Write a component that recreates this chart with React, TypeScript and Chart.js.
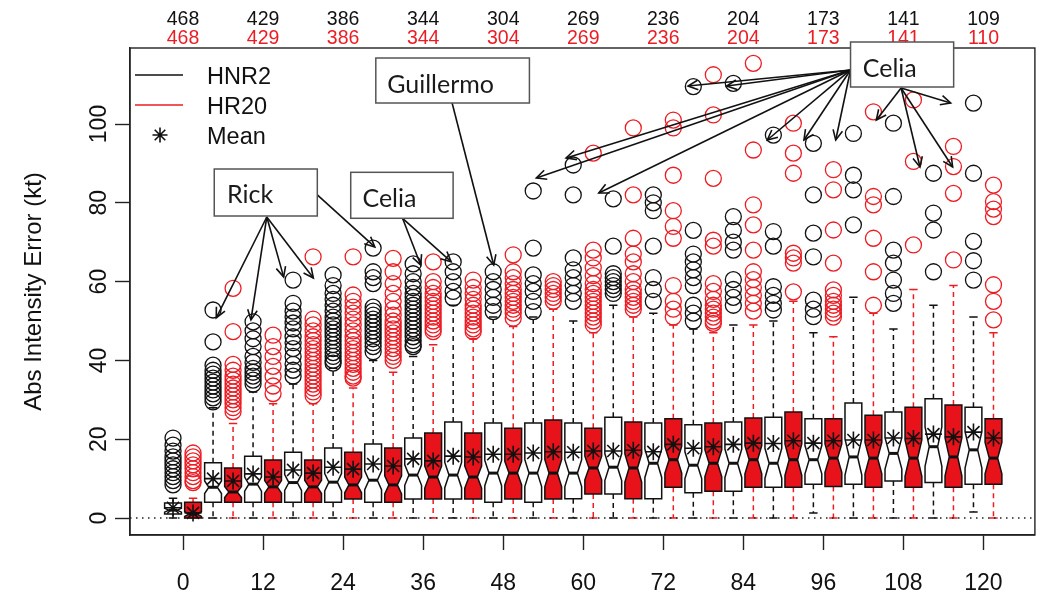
import React, { useEffect, useRef } from 'react';
import { Chart, registerables } from 'chart.js';

Chart.register(...registerables);

// ---------------- data ----------------
const LEADS = [0, 6, 12, 18, 24, 30, 36, 42, 48, 54, 60, 66, 72, 78, 84, 90, 96, 102, 108, 114, 120];
const X_TICKS = [0, 12, 24, 36, 48, 60, 72, 84, 96, 108, 120];
const Y_TICKS = [0, 20, 40, 60, 80, 100];
const COUNT_LEADS = [0, 12, 24, 36, 48, 60, 72, 84, 96, 108, 120];
const COUNT_HNR2 = [468, 429, 386, 344, 304, 269, 236, 204, 173, 141, 109];
const COUNT_HR20 = [468, 429, 386, 344, 304, 269, 236, 204, 173, 141, 110];

const HNR2_Q1 = [1.0, 4.0, 4.0, 4.0, 4.0, 4.0, 4.8, 4.8, 4.0, 4.0, 4.9, 6.1, 4.9, 6.4, 6.8, 7.8, 8.6, 8.6, 9.4, 9.0, 8.6];
const HNR2_MED = [2.0, 7.8, 8.6, 9.0, 9.1, 9.6, 10.9, 10.9, 11.4, 11.4, 11.4, 12.9, 13.9, 13.4, 13.9, 13.9, 14.8, 15.5, 16.4, 18.1, 17.3];
const HNR2_Q3 = [3.8, 14.0, 15.7, 16.7, 17.8, 18.8, 20.3, 24.4, 24.1, 24.1, 24.1, 25.6, 24.1, 23.7, 24.4, 25.6, 25.2, 29.2, 26.9, 30.3, 28.1];
const HNR2_LOW = [0, 0, 0, 0, 0, 0, 0, 0, 0, 0, 0, 0, 0, 0, 0, 0, 1.3, 0, 0, 0, 1.5];
const HNR2_HIGH = [5, 28, 32, 34, 38, 40, 41, 54, 51, 51, 50, 54, 52, 48, 49, 50, 47, 56, 48, 54, 51];
const HNR2_MEAN = [2.6, 10.0, 11.2, 12.2, 12.9, 13.7, 15.0, 15.7, 16.2, 16.5, 16.7, 17.0, 16.8, 17.7, 18.7, 18.9, 19.0, 19.8, 20.3, 21.3, 21.8];
const HNR2_NOTCH = [0.5, 1.6, 1.8, 2.0, 2.2, 2.4, 2.6, 3.2, 3.2, 3.4, 3.4, 3.4, 3.6, 3.4, 3.6, 3.8, 3.6, 4.6, 4.0, 5.0, 4.6];
const HNR2_OUT = [
  [20.3, 18.5, 17, 15.5, 14.5, 13.5, 12.5, 11.5, 10.5, 9.5, 8.4],
  [52.8, 44.7, 38.8, 37.5, 36.5, 35.5, 34.5, 33.5, 32.5, 31.5, 30.5, 29.5],
  [49.8, 47.5, 45.5, 43.5, 41, 39.5, 38, 37, 36, 35, 34],
  [60.4, 54.5, 52.5, 51, 49.5, 48, 46, 44.5, 43, 41, 39, 37.5, 36],
  [61.7, 59, 57, 55.5, 54, 52.5, 51, 50, 49, 48, 47, 46, 45, 44, 43, 42, 41, 40, 39.3],
  [68.5, 62.5, 61, 59.5, 53.5, 52.5, 51.5, 50.5, 49.5, 48.5, 47.5, 46.5, 45.5, 44.5, 43.5, 42.2],
  [64.5, 62, 60, 58.5, 57, 56, 55, 54, 53, 52, 51, 50, 49, 48, 47, 46, 45, 44, 43.5],
  [65, 62.5, 60, 57.5, 55.8],
  [62.5, 60, 58, 56, 54, 52.4],
  [83, 68.5, 61.7, 59.5, 57.5, 55, 52.4],
  [89.6, 82, 66, 63, 61, 59, 57, 55],
  [81, 69, 62, 61, 60, 59, 58, 57],
  [82, 80, 78, 69, 61, 58, 55],
  [109.5, 73, 67, 65, 63, 61, 59, 54, 52, 50],
  [110.3, 76.5, 73, 70, 68, 60.5, 58, 56, 54],
  [97.2, 72.7, 69, 58.7, 56.5, 54.5, 52.8],
  [95.1, 82, 72.3, 66.3, 55.3, 53, 51.1],
  [97.6, 87, 83.3, 74.4],
  [100.2, 81.6, 68, 64.7, 60.4, 57, 54.5],
  [87.5, 77.4, 73.1, 62.5],
  [105.3, 87.5, 70.2, 65.3, 60.4],
];

const HR20_Q1 = [0, 4.0, 4.0, 4.0, 4.8, 4.0, 4.8, 4.8, 4.8, 4.8, 6.1, 4.9, 7.8, 6.8, 7.8, 7.8, 8.0, 7.8, 7.8, 7.8, 8.6];
const HR20_MED = [1.0, 6.6, 7.9, 7.9, 8.4, 8.4, 10.4, 10.4, 11.4, 11.4, 12.7, 12.7, 14.8, 13.9, 14.8, 14.8, 15.2, 15.2, 15.2, 15.5, 15.2];
const HR20_Q3 = [4.0, 12.7, 14.7, 14.7, 16.7, 17.8, 21.6, 21.6, 22.8, 24.9, 22.8, 24.4, 25.2, 24.1, 25.4, 26.9, 25.2, 26.1, 28.1, 28.7, 25.2];
const HR20_LOW = [0, 0, 0, 0, 0, 0, 0, 0, 0, 0, 0, 0, 0, 0, 0, 0, 0, 0, 0, 0, 0];
const HR20_HIGH = [5, 24, 29, 29, 33, 37, 44, 45.5, 48.6, 53, 47, 51, 49, 47, 49, 55, 46, 52, 58, 59, 47];
const HR20_MEAN = [1.3, 9.4, 10.4, 11.4, 12.4, 13.2, 14.5, 15.5, 16.2, 16.8, 17.0, 17.2, 18.7, 18.1, 19.0, 19.6, 19.6, 19.8, 20.2, 20.6, 20.3];
const HR20_NOTCH = [0.6, 1.4, 1.6, 1.7, 2.0, 2.3, 2.8, 2.8, 3.0, 3.4, 3.0, 3.6, 3.4, 3.4, 3.6, 4.0, 3.6, 4.0, 4.6, 4.8, 4.0];
const HR20_OUT = [
  [16.5, 15.5, 14.5, 13.5, 12.5, 11.5, 10.5, 9.5, 9],
  [58.3, 47.3, 39, 37.5, 36, 35, 34, 33, 32, 31, 30, 29, 28, 27],
  [46.4, 43.5, 41, 38.5, 36, 33.5, 31.6],
  [66.3, 50.5, 49, 47.5, 46, 45, 44, 43, 42, 41, 40, 39, 38, 37, 36, 35, 34, 33, 32, 31],
  [66.3, 56.6, 55, 53.5, 52, 50.5, 49, 47.5, 46, 45, 44, 43, 42, 41, 40, 39, 38, 37, 36, 35.5],
  [65.9, 62.5, 59.5, 57, 55, 53, 51.5, 50, 49, 48, 47, 46, 45, 44, 43, 42, 41, 40],
  [65, 60, 58.5, 57, 56, 55, 54, 53, 52, 51, 50, 49, 48, 47.3],
  [60.4, 58.5, 57, 55.5, 54, 53, 52, 51, 50, 49, 48, 47.3],
  [66.8, 62.5, 61, 59.5, 58, 57, 56, 55, 54, 53, 52, 50.7],
  [60, 59, 58, 57, 56, 55],
  [92.6, 68, 66, 63.5, 61.5, 59.5, 58, 57, 56, 55, 54, 53, 52, 51, 50, 49],
  [99, 82, 71, 67, 65, 62, 60, 58, 57, 56, 55, 54, 53],
  [101, 99, 87, 78, 74, 71, 59, 55, 53, 51],
  [112.5, 102.3, 86.2, 70.5, 69, 59.5, 57.5, 55.5, 54, 53, 52, 51, 50, 49.4],
  [115.4, 93.4, 79.5, 74.4, 68, 62.5, 60.5, 58.5, 56.5, 54.5, 52.5],
  [100.2, 92.6, 87.5, 67.2, 66, 64.7, 57.4],
  [88.4, 83.3, 73.1, 64.7, 57.9, 56.5, 55, 54, 53, 52, 51],
  [103.1, 81.6, 79.5, 71, 62.5, 54],
  [106.1, 90.5, 69.3],
  [94.3, 89.2, 82.4, 65.5],
  [84.5, 80.3, 78.4, 76.5, 59.2, 55, 50.3],
];

// ---------------- annotations (data units: hours, kt) ----------------
const NOTE_BOXES = [
  { text: 'Rick', x0: 4.68, x1: 20.13, y0: 76.65, y1: 88.58, tx: 6.6, ty: 79.9 },
  { text: 'Celia', x0: 25.14, x1: 40.49, y0: 76.07, y1: 87.74, tx: 26.9, ty: 79.0 },
  { text: 'Guillermo', x0: 28.9, x1: 51.93, y0: 105.33, y1: 116.75, tx: 30.6, ty: 107.9 },
  { text: 'Celia', x0: 100.07, x1: 115.53, y0: 109.39, y1: 120.81, tx: 101.9, ty: 111.9 },
];
const NOTE_ARROWS = [
  { from: [12.56, 76.4], to: [[4.98, 50.8], [10.18, 50.3], [15.08, 61.2], [19.54, 60.9]] },
  { from: [20.13, 82.0], to: [[28.75, 68.8]] },
  { from: [32.91, 76.07], to: [[35.63, 64.2], [40.19, 65.05]] },
  { from: [40.34, 105.33], to: [[46.58, 64.2]] },
  { from: [100.07, 113.71], to: [[57.43, 91.37], [52.97, 86.29], [62.33, 82.49], [75.71, 109.64], [81.5, 109.64], [87.59, 95.94], [93.09, 95.94], [97.85, 95.94]] },
  { from: [107.65, 109.14], to: [[103.94, 101.02], [115.08, 105.33], [110.48, 89.09], [115.38, 89.09]] },
];

// ---------------- style ----------------
const FONT = '"Liberation Sans", Arial, Helvetica, sans-serif';
const NOTE_FONT = 'Lato, "Open Sans", sans-serif';
const BLACK = '#111111';
const RED = '#ec1c24';
const RED_FILL = '#e8121a';
const PAIR_OFFSET = 1.5;
const BOX_HALF = 1.26;

type Series = {
  q1: number[]; med: number[]; q3: number[]; low: number[]; high: number[];
  notch: number[]; offset: number; fill: string; whisker: string;
};

const SERIES: Series[] = [
  { q1: HNR2_Q1, med: HNR2_MED, q3: HNR2_Q3, low: HNR2_LOW, high: HNR2_HIGH, notch: HNR2_NOTCH, offset: -PAIR_OFFSET, fill: '#ffffff', whisker: BLACK },
  { q1: HR20_Q1, med: HR20_MED, q3: HR20_Q3, low: HR20_LOW, high: HR20_HIGH, notch: HR20_NOTCH, offset: PAIR_OFFSET, fill: RED_FILL, whisker: RED },
];

function outlierPoints(out: number[][], offset: number) {
  const pts: { x: number; y: number }[] = [];
  out.forEach((vals, i) => vals.forEach((v) => pts.push({ x: LEADS[i] + offset, y: v })));
  return pts;
}

function meanPoints() {
  const pts: { x: number; y: number }[] = [];
  LEADS.forEach((l, i) => {
    pts.push({ x: l - PAIR_OFFSET, y: HNR2_MEAN[i] });
    pts.push({ x: l + PAIR_OFFSET, y: HR20_MEAN[i] });
  });
  return pts;
}

const boxPlugin = {
  id: 'notchedBoxes',
  beforeDatasetsDraw(chart: any) {
    const { ctx, chartArea: a, scales } = chart;
    const xs = scales.x;
    const ys = scales.y;
    ctx.save();
    ctx.beginPath();
    ctx.rect(a.left, a.top, a.right - a.left, a.bottom - a.top);
    ctx.clip();

    SERIES.forEach((s) => {
      LEADS.forEach((lead, i) => {
        const cx = xs.getPixelForValue(lead + s.offset);
        const hw = xs.getPixelForValue(lead + s.offset + BOX_HALF) - cx;
        const pq1 = ys.getPixelForValue(s.q1[i]);
        const pq3 = ys.getPixelForValue(s.q3[i]);
        const pm = ys.getPixelForValue(s.med[i]);
        const pnh = ys.getPixelForValue(s.med[i] + s.notch[i]);
        const pnl = ys.getPixelForValue(s.med[i] - s.notch[i]);
        const plo = ys.getPixelForValue(s.low[i]);
        const phi = ys.getPixelForValue(s.high[i]);

        // whiskers
        ctx.strokeStyle = s.whisker;
        ctx.lineWidth = 1.5;
        ctx.setLineDash([5, 4]);
        ctx.beginPath();
        ctx.moveTo(cx, pq3);
        ctx.lineTo(cx, phi);
        ctx.moveTo(cx, pq1);
        ctx.lineTo(cx, plo);
        ctx.stroke();
        ctx.setLineDash([]);
        ctx.beginPath();
        ctx.moveTo(cx - hw / 2, phi);
        ctx.lineTo(cx + hw / 2, phi);
        ctx.moveTo(cx - hw / 2, plo);
        ctx.lineTo(cx + hw / 2, plo);
        ctx.stroke();

        // notched box
        ctx.beginPath();
        ctx.moveTo(cx - hw, pq3);
        ctx.lineTo(cx + hw, pq3);
        ctx.lineTo(cx + hw, pnh);
        ctx.lineTo(cx + hw / 2, pm);
        ctx.lineTo(cx + hw, pnl);
        ctx.lineTo(cx + hw, pq1);
        ctx.lineTo(cx - hw, pq1);
        ctx.lineTo(cx - hw, pnl);
        ctx.lineTo(cx - hw / 2, pm);
        ctx.lineTo(cx - hw, pnh);
        ctx.closePath();
        ctx.fillStyle = s.fill;
        ctx.fill();
        ctx.strokeStyle = BLACK;
        ctx.lineWidth = 1.5;
        ctx.stroke();

        // median
        ctx.lineWidth = 3;
        ctx.beginPath();
        ctx.moveTo(cx - hw / 2, pm);
        ctx.lineTo(cx + hw / 2, pm);
        ctx.stroke();
      });
    });

    // dotted zero line
    const p0 = ys.getPixelForValue(0);
    ctx.strokeStyle = '#222';
    ctx.lineWidth = 1.3;
    ctx.setLineDash([1.5, 4.5]);
    ctx.beginPath();
    ctx.moveTo(a.left, p0);
    ctx.lineTo(a.right, p0);
    ctx.stroke();
    ctx.restore();
  },
};

function arrowHead(ctx: CanvasRenderingContext2D, x0: number, y0: number, x1: number, y1: number) {
  const ang = Math.atan2(y1 - y0, x1 - x0);
  const len = 11;
  const spread = 0.45;
  ctx.beginPath();
  ctx.moveTo(x1 - len * Math.cos(ang - spread), y1 - len * Math.sin(ang - spread));
  ctx.lineTo(x1, y1);
  ctx.lineTo(x1 - len * Math.cos(ang + spread), y1 - len * Math.sin(ang + spread));
  ctx.stroke();
}

const decorPlugin = {
  id: 'decor',
  afterDraw(chart: any) {
    const { ctx, chartArea: a, scales } = chart;
    const xs = scales.x;
    const ys = scales.y;
    ctx.save();
    ctx.setLineDash([]);
    // frame
    ctx.strokeStyle = '#222';
    ctx.lineWidth = 1.4;
    ctx.strokeRect(a.left, a.top, a.right - a.left, a.bottom - a.top);

    // x tick labels
    ctx.fillStyle = '#111';
    ctx.font = `23px ${FONT}`;
    ctx.textAlign = 'center';
    ctx.textBaseline = 'alphabetic';
    X_TICKS.forEach((t) => ctx.fillText(String(t), xs.getPixelForValue(t), 589.5));

    // y tick labels (rotated)
    Y_TICKS.forEach((t) => {
      ctx.save();
      ctx.translate(106, ys.getPixelForValue(t));
      ctx.rotate(-Math.PI / 2);
      ctx.fillText(String(t), 0, 0);
      ctx.restore();
    });

    // y title
    ctx.save();
    ctx.font = `24px ${FONT}`;
    ctx.translate(40.5, (a.top + a.bottom) / 2);
    ctx.rotate(-Math.PI / 2);
    ctx.fillText('Abs Intensity Error (kt)', 0, 0);
    ctx.restore();

    // counts
    ctx.font = `19.5px ${FONT}`;
    COUNT_LEADS.forEach((l, i) => {
      const px = xs.getPixelForValue(l);
      ctx.fillStyle = '#111';
      ctx.fillText(String(COUNT_HNR2[i]), px, 25);
      ctx.fillStyle = RED;
      ctx.fillText(String(COUNT_HR20[i]), px, 43.5);
    });

    // legend
    ctx.lineWidth = 1.6;
    ctx.strokeStyle = BLACK;
    ctx.beginPath();
    ctx.moveTo(135, 75);
    ctx.lineTo(183, 75);
    ctx.stroke();
    ctx.strokeStyle = RED;
    ctx.beginPath();
    ctx.moveTo(135, 105);
    ctx.lineTo(183, 105);
    ctx.stroke();
    ctx.strokeStyle = BLACK;
    const sx = 160, sy = 135, sr = 7.5;
    ctx.beginPath();
    ctx.moveTo(sx - sr, sy); ctx.lineTo(sx + sr, sy);
    ctx.moveTo(sx, sy - sr); ctx.lineTo(sx, sy + sr);
    const d = sr * Math.SQRT1_2;
    ctx.moveTo(sx - d, sy - d); ctx.lineTo(sx + d, sy + d);
    ctx.moveTo(sx - d, sy + d); ctx.lineTo(sx + d, sy - d);
    ctx.stroke();
    ctx.fillStyle = '#111';
    ctx.textAlign = 'left';
    ctx.font = `23.5px ${FONT}`;
    ctx.fillText('HNR2', 207, 83.5);
    ctx.fillText('HR20', 207, 113.5);
    ctx.fillText('Mean', 207, 143.5);

    // annotation arrows
    ctx.strokeStyle = '#111';
    ctx.lineWidth = 1.6;
    NOTE_ARROWS.forEach((g) => {
      const fx = xs.getPixelForValue(g.from[0]);
      const fy = ys.getPixelForValue(g.from[1]);
      g.to.forEach((t) => {
        const tx = xs.getPixelForValue(t[0]);
        const ty = ys.getPixelForValue(t[1]);
        ctx.beginPath();
        ctx.moveTo(fx, fy);
        ctx.lineTo(tx, ty);
        ctx.stroke();
        arrowHead(ctx, fx, fy, tx, ty);
      });
    });

    // annotation boxes
    ctx.font = `25px ${NOTE_FONT}`;
    NOTE_BOXES.forEach((b) => {
      const x0 = xs.getPixelForValue(b.x0);
      const x1 = xs.getPixelForValue(b.x1);
      const y0 = ys.getPixelForValue(b.y1);
      const y1 = ys.getPixelForValue(b.y0);
      ctx.fillStyle = '#ffffff';
      ctx.fillRect(x0, y0, x1 - x0, y1 - y0);
      ctx.strokeStyle = '#555';
      ctx.lineWidth = 1.5;
      ctx.strokeRect(x0, y0, x1 - x0, y1 - y0);
      ctx.fillStyle = '#1a1a1a';
      ctx.fillText(b.text, xs.getPixelForValue(b.tx), ys.getPixelForValue(b.ty));
    });
    ctx.restore();
  },
};

export default function App() {
  const ref = useRef<HTMLCanvasElement | null>(null);

  useEffect(() => {
    if (!ref.current) return;
    const tickGrid = {
      drawOnChartArea: false,
      drawTicks: true,
      tickLength: 15,
      tickWidth: 1.4,
      tickColor: '#222',
      color: '#222',
    };
    const chart = new Chart(ref.current, {
      type: 'scatter',
      data: {
        datasets: [
          {
            label: 'HNR2',
            data: outlierPoints(HNR2_OUT, -PAIR_OFFSET),
            pointStyle: 'circle',
            pointRadius: 8,
            pointBorderWidth: 1.3,
            borderColor: BLACK,
            backgroundColor: 'rgba(0,0,0,0)',
          },
          {
            label: 'HR20',
            data: outlierPoints(HR20_OUT, PAIR_OFFSET),
            pointStyle: 'circle',
            pointRadius: 8,
            pointBorderWidth: 1.3,
            borderColor: RED,
            backgroundColor: 'rgba(0,0,0,0)',
          },
          {
            label: 'Mean',
            data: meanPoints(),
            pointStyle: 'star',
            pointRadius: 8.5,
            pointBorderWidth: 1.6,
            borderColor: BLACK,
            backgroundColor: BLACK,
          },
        ],
      },
      options: {
        animation: false,
        responsive: false,
        maintainAspectRatio: false,
        devicePixelRatio: 1,
        events: [],
        layout: { padding: { top: 48, right: 2, left: 0, bottom: 0 } },
        plugins: { legend: { display: false }, tooltip: { enabled: false } },
        scales: {
          x: {
            type: 'linear',
            min: -7.95,
            max: 127.71,
            afterBuildTicks: (s: any) => { s.ticks = X_TICKS.map((v) => ({ value: v })); },
            afterFit: (s: any) => { s.height = 67; },
            grid: tickGrid,
            border: { display: true, color: '#222', width: 1.4 },
            ticks: { display: false },
          },
          y: {
            type: 'linear',
            min: -4.31,
            max: 119.29,
            afterBuildTicks: (s: any) => { s.ticks = Y_TICKS.map((v) => ({ value: v })); },
            afterFit: (s: any) => { s.width = 130; },
            grid: tickGrid,
            border: { display: true, color: '#222', width: 1.4 },
            ticks: { display: false },
          },
        },
      },
      plugins: [boxPlugin, decorPlugin],
    } as any);
    return () => chart.destroy();
  }, []);

  return (
    <div style={{ position: 'fixed', left: 0, top: 0, width: 1045, height: 602, background: '#ffffff' }}>
      <canvas ref={ref} width={1045} height={602} style={{ display: 'block', width: 1045, height: 602 }} />
    </div>
  );
}
